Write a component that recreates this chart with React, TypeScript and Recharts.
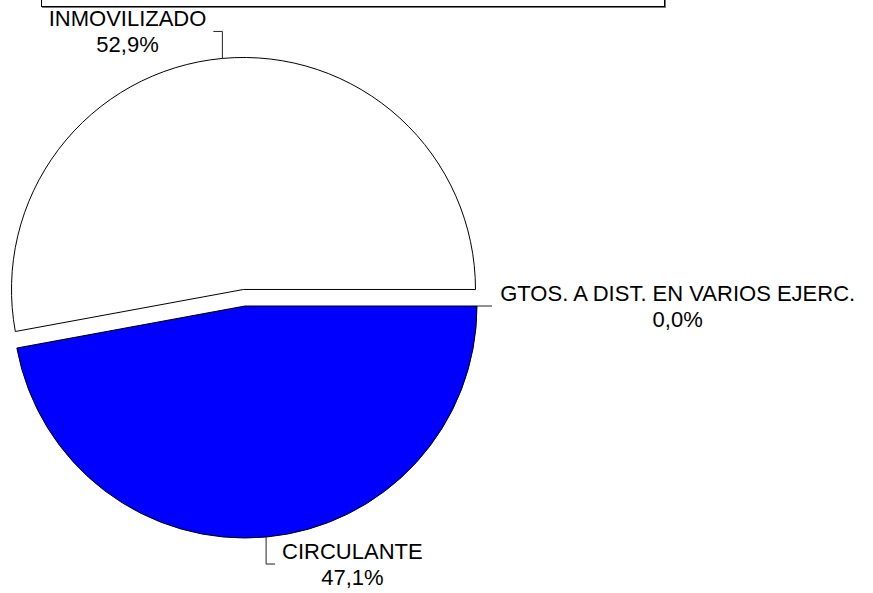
import { PieChart, Pie, Cell } from 'recharts'

const CATEGORIES = ['CIRCULANTE', 'INMOVILIZADO', 'GTOS. A DIST. EN VARIOS EJERC.']
const VALUES = [47.1, 52.9, 0]
const FILLS = ['#0000ff', '#ffffff', '#ffffff']
const EXPLODED = [false, true, false]

const data = CATEGORIES.map((name, i) => ({ name, value: VALUES[i] }))
const total = VALUES.reduce((a, b) => a + b, 0)

const CX = 245
const CY = 306
const R = 232
const EXPLODE = 16.6
const RAD = Math.PI / 180
const FONT = '"Liberation Sans", Arial, sans-serif'
const FONT_SIZE = 22

// offset of the pulled-out slice, along its bisector (chart runs clockwise from 3 o'clock)
const explodedIdx = EXPLODED.indexOf(true)
const before = VALUES.slice(0, explodedIdx).reduce((a, b) => a + b, 0)
const explodedMid = -((before + VALUES[explodedIdx] / 2) / total) * 360
const EX_DX = Math.cos(-explodedMid * RAD) * EXPLODE
const EX_DY = Math.sin(-explodedMid * RAD) * EXPLODE

let ctx: CanvasRenderingContext2D | null = null
function textWidth(s: string) {
  if (!ctx) {
    ctx = document.createElement('canvas').getContext('2d')
    if (ctx) ctx.font = `${FONT_SIZE}px "Liberation Sans"`
  }
  return ctx ? ctx.measureText(s).width : s.length * FONT_SIZE * 0.6
}

const pct = (v: number) => ((v / total) * 100).toFixed(1).replace('.', ',') + '%'

function makeLabel(exploded: boolean) {
  return (props: any) => {
    const { cx, cy, midAngle, outerRadius, index } = props
    if (EXPLODED[index] !== exploded) return null
    const cos = Math.cos(-midAngle * RAD)
    const sin = Math.sin(-midAngle * RAD)
    const x0 = cx + outerRadius * cos
    const y0 = cy + outerRadius * sin
    const side = cos < -0.0001 ? -1 : 1
    let pts: string
    let ex: number
    let ey: number
    if (Math.abs(sin) > Math.abs(cos)) {
      const y1 = y0 + Math.sign(sin) * 27
      ex = x0 + side * 9
      ey = y1
      pts = `${x0},${y0} ${x0},${y1} ${ex},${ey}`
    } else {
      ex = x0 + side * 15
      ey = y0
      pts = `${x0},${y0} ${ex},${ey}`
    }
    const name = CATEGORIES[index]
    const p = pct(VALUES[index])
    const w = Math.max(textWidth(name), textWidth(p))
    const tx = ex + side * (7 + w / 2)
    return (
      <g key={`lbl-${index}`}>
        <polyline points={pts} fill="none" stroke="#222" strokeWidth={1} />
        <text x={tx} y={ey - 5} textAnchor="middle" fontFamily={FONT} fontSize={FONT_SIZE} fill="#000">
          {name}
        </text>
        <text x={tx} y={ey + 21} textAnchor="middle" fontFamily={FONT} fontSize={FONT_SIZE} fill="#000">
          {p}
        </text>
      </g>
    )
  }
}

export default function App() {
  return (
    <div style={{ position: 'absolute', left: 0, top: 0, width: 873, height: 593, overflow: 'hidden', background: '#fff' }}>
      <div
        style={{
          position: 'absolute',
          left: 41,
          top: -20,
          width: 622,
          height: 25,
          border: '1px solid #000',
          boxShadow: '1px 1px 0 #777',
          background: '#fff',
        }}
      />
      <PieChart width={873} height={593} margin={{ top: 0, right: 0, bottom: 0, left: 0 }}>
        <Pie
          data={data}
          dataKey="value"
          nameKey="name"
          cx={CX}
          cy={CY}
          innerRadius={0}
          outerRadius={R}
          startAngle={0}
          endAngle={-360}
          stroke="#000"
          strokeWidth={1}
          label={makeLabel(false)}
          labelLine={false}
          isAnimationActive={false}
        >
          {data.map((d, i) => (
            <Cell
              key={d.name}
              fill={EXPLODED[i] ? 'none' : FILLS[i]}
              stroke={EXPLODED[i] || d.value === 0 ? 'none' : '#000'}
            />
          ))}
        </Pie>
        <Pie
          data={data}
          dataKey="value"
          nameKey="name"
          cx={CX + EX_DX}
          cy={CY + EX_DY}
          innerRadius={0}
          outerRadius={R}
          startAngle={0}
          endAngle={-360}
          stroke="#000"
          strokeWidth={1}
          label={makeLabel(true)}
          labelLine={false}
          isAnimationActive={false}
        >
          {data.map((d, i) => (
            <Cell
              key={d.name}
              fill={EXPLODED[i] ? FILLS[i] : 'none'}
              stroke={EXPLODED[i] ? '#000' : 'none'}
            />
          ))}
        </Pie>
      </PieChart>
    </div>
  )
}
